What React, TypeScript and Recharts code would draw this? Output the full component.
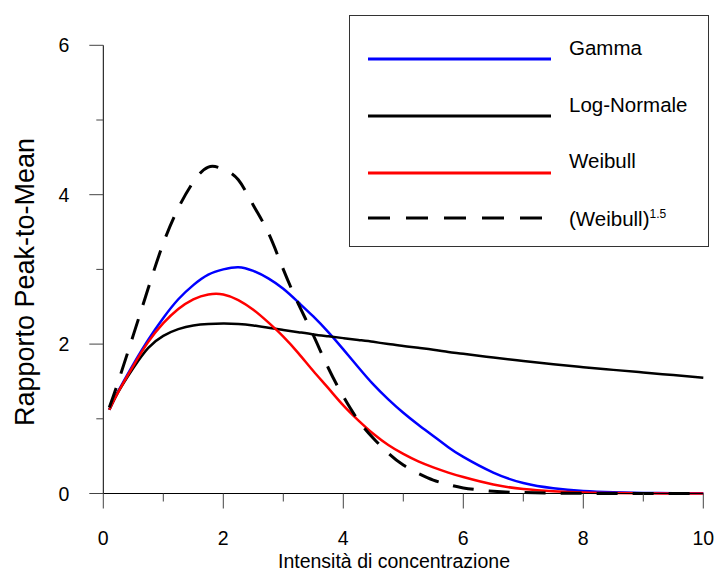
import React from 'react';
import { LineChart, Line, XAxis, YAxis, Legend, Label } from 'recharts';

const xValues = [0.1, 0.25, 0.5, 0.75, 1, 1.25, 1.5, 1.75, 2, 2.25, 2.5, 2.75, 3, 3.25, 3.5, 3.75, 4, 4.25, 4.5, 4.75, 5, 5.25, 5.5, 5.75, 6, 6.5, 7, 7.5, 8, 8.5, 9, 9.5, 10];

const gamma = [1.12, 1.37, 1.73, 2.06, 2.35, 2.6, 2.79, 2.93, 3.0, 3.03, 2.98, 2.88, 2.74, 2.56, 2.37, 2.16, 1.93, 1.69, 1.46, 1.26, 1.08, 0.92, 0.77, 0.62, 0.49, 0.28, 0.14, 0.07, 0.035, 0.018, 0.008, 0.004, 0.002];
const logNormale = [1.12, 1.36, 1.68, 1.95, 2.11, 2.2, 2.25, 2.27, 2.275, 2.27, 2.25, 2.22, 2.19, 2.16, 2.13, 2.105, 2.08, 2.055, 2.03, 2.0, 1.975, 1.95, 1.925, 1.895, 1.87, 1.82, 1.775, 1.73, 1.69, 1.655, 1.62, 1.585, 1.55];
const weibull = [1.12, 1.36, 1.71, 2.03, 2.28, 2.47, 2.6, 2.665, 2.665, 2.59, 2.46, 2.29, 2.1, 1.88, 1.64, 1.41, 1.18, 0.98, 0.8, 0.65, 0.53, 0.43, 0.35, 0.28, 0.22, 0.12, 0.06, 0.03, 0.013, 0.006, 0.003, 0.001, 0];
const weibull15 = [1.15, 1.5, 2.12, 2.75, 3.35, 3.82, 4.17, 4.37, 4.34, 4.2, 3.86, 3.49, 3.0, 2.54, 2.12, 1.68, 1.3, 0.98, 0.74, 0.54, 0.38, 0.27, 0.18, 0.12, 0.075, 0.03, 0.013, 0.005, 0.002, 0.001, 0, 0, 0];

const xTicks = [0, 1, 2, 3, 4, 5, 6, 7, 8, 9, 10];
const yTicks = [0, 1, 2, 3, 4, 5, 6];

const series = [
  { key: 'gamma', name: 'Gamma', color: '#0000ff', dash: undefined, width: 2.5 },
  { key: 'logNormale', name: 'Log-Normale', color: '#000000', dash: undefined, width: 2.5 },
  { key: 'weibull', name: 'Weibull', color: '#ff0000', dash: undefined, width: 2.5 },
  { key: 'weibull15', name: '(Weibull)', color: '#000000', dash: '21 15', width: 3 },
];

const data = xValues.map((x, i) => ({
  x,
  gamma: gamma[i],
  logNormale: logNormale[i],
  weibull: weibull[i],
  weibull15: weibull15[i],
}));

const FONT = '"Liberation Sans", Arial, Helvetica, sans-serif';

const XTick = (props: any) => {
  const { x, y, payload } = props;
  const major = payload.value % 2 === 0;
  return (
    <g>
      <line x1={x} y1={y} x2={x} y2={y + (major ? 15 : 8)} stroke="#444" strokeWidth={1} />
      {major && (
        <text x={x} y={y + 51.5} textAnchor="middle" fontFamily={FONT} fontSize={19.5} fill="#000">
          {payload.value}
        </text>
      )}
    </g>
  );
};

const YTick = (props: any) => {
  const { x, y, payload } = props;
  const major = payload.value % 2 === 0;
  return (
    <g>
      <line x1={x - (major ? 14 : 7)} y1={y} x2={x} y2={y} stroke="#444" strokeWidth={1} />
      {major && (
        <text x={x - 34} y={y + 7} textAnchor="end" fontFamily={FONT} fontSize={19.5} fill="#000">
          {payload.value}
        </text>
      )}
    </g>
  );
};

const legendRows = [43, 100, 157, 202];
const legendText = [39, 96, 152, 210];

const renderLegend = () => (
  <div style={{ width: 358, height: 230, border: '1px solid #333', background: '#fff' }}>
    <svg width={358} height={230}>
      {series.map((s, i) => (
        <g key={s.key}>
          <line
            x1={18}
            x2={201}
            y1={legendRows[i]}
            y2={legendRows[i]}
            stroke={s.color}
            strokeWidth={3}
            strokeDasharray={s.dash ? '22 16' : undefined}
          />
          <text x={219} y={legendText[i]} fontFamily={FONT} fontSize={20.5} fill="#000">
            {s.name}
            {s.key === 'weibull15' && (
              <tspan fontSize={12} dy={-8}>1.5</tspan>
            )}
          </text>
        </g>
      ))}
    </svg>
  </div>
);

export default function App() {
  return (
    <div style={{ position: 'absolute', left: 0, top: 0, width: 716, height: 573, background: '#fff' }}>
      <LineChart
        width={716}
        height={573}
        data={data}
        margin={{ top: 45.3, right: 12.7, bottom: 19.5, left: 43.3 }}
      >
        <XAxis
          dataKey="x"
          type="number"
          domain={[0, 10]}
          ticks={xTicks}
          interval={0}
          tickSize={0}
          tickMargin={0}
          tick={<XTick />}
          axisLine={{ stroke: '#000', strokeWidth: 1 }}
          tickLine={false}
          height={60}
        >
          <Label
            content={() => (
              <text x={394} y={568} textAnchor="middle" fontFamily={FONT} fontSize={19.5} fill="#000">
                Intensità di concentrazione
              </text>
            )}
          />
        </XAxis>
        <YAxis
          type="number"
          domain={[0, 6]}
          ticks={yTicks}
          interval={0}
          tickSize={0}
          tickMargin={0}
          tick={<YTick />}
          axisLine={{ stroke: '#000', strokeWidth: 1 }}
          tickLine={false}
          width={60}
        >
          <Label
            content={() => (
              <text
                x={25}
                y={282}
                transform="rotate(-90 25 282)"
                textAnchor="middle"
                dominantBaseline="central"
                fontFamily={FONT}
                fontSize={27}
                fill="#000"
              >
                Rapporto Peak-to-Mean
              </text>
            )}
          />
        </YAxis>
        <Legend
          layout="horizontal"
          verticalAlign="middle"
          align="center"
          content={renderLegend}
          wrapperStyle={{ left: 349, top: 15, width: 360, height: 232 }}
        />
        {series.map((s) => (
          <Line
            key={s.key}
            dataKey={s.key}
            name={s.name}
            type="natural"
            stroke={s.color}
            strokeWidth={s.width}
            strokeDasharray={s.dash}
            dot={false}
            activeDot={false}
            isAnimationActive={false}
          />
        ))}
      </LineChart>
    </div>
  );
}
